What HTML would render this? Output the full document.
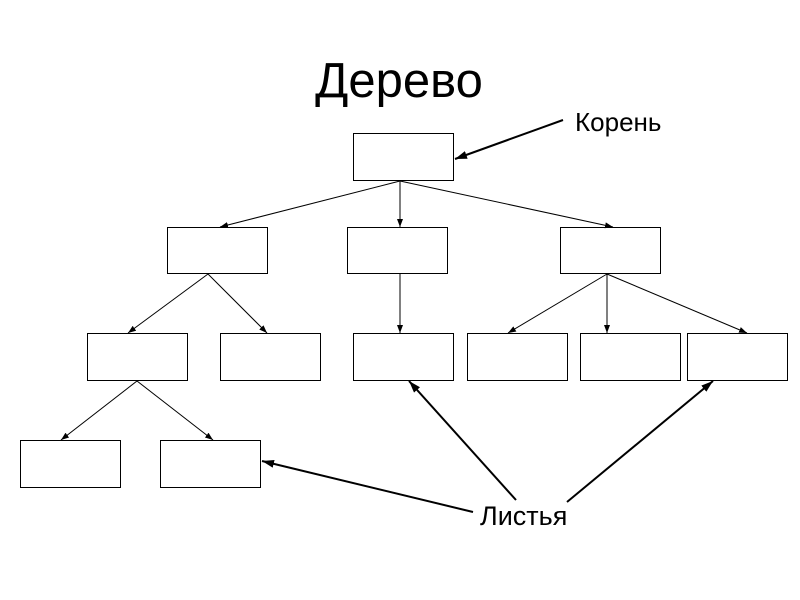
<!DOCTYPE html>
<html><head><meta charset="utf-8"><style>
html,body{margin:0;padding:0;background:#fff;width:800px;height:600px;overflow:hidden}
</style></head><body>
<svg width="800" height="600" xmlns="http://www.w3.org/2000/svg">
<defs>
<marker id="a" markerWidth="8" markerHeight="6" refX="8" refY="3" orient="auto" markerUnits="userSpaceOnUse"><path d="M0,0 L8,3 L0,6 z" fill="#000"/></marker>
<marker id="b" markerWidth="12" markerHeight="8" refX="12" refY="4" orient="auto" markerUnits="userSpaceOnUse"><path d="M0,0 L12,4 L0,8 z" fill="#000"/></marker>
</defs>
<text x="399" y="97" font-family="Liberation Sans, DejaVu Sans, sans-serif" font-size="49" text-anchor="middle">Дерево</text>
<text x="575" y="131" font-family="Liberation Sans, DejaVu Sans, sans-serif" font-size="26">Корень</text>
<text x="480" y="525" font-family="Liberation Sans, DejaVu Sans, sans-serif" font-size="27">Листья</text>
<g fill="#fff" stroke="#000" stroke-width="1">
<rect x="353.5" y="133.5" width="100" height="47"/>
<rect x="167.5" y="227.5" width="100" height="46"/>
<rect x="347.5" y="227.5" width="100" height="46"/>
<rect x="560.5" y="227.5" width="100" height="46"/>
<rect x="87.5" y="333.5" width="100" height="47"/>
<rect x="220.5" y="333.5" width="100" height="47"/>
<rect x="353.5" y="333.5" width="100" height="47"/>
<rect x="467.5" y="333.5" width="100" height="47"/>
<rect x="580.5" y="333.5" width="100" height="47"/>
<rect x="687.5" y="333.5" width="100" height="47"/>
<rect x="20.5" y="440.5" width="100" height="47"/>
<rect x="160.5" y="440.5" width="100" height="47"/>
</g>
<g stroke="#000" stroke-width="1" marker-end="url(#a)">
<line x1="400" y1="181" x2="220" y2="227"/>
<line x1="400" y1="181" x2="400" y2="227"/>
<line x1="400" y1="181" x2="613" y2="227"/>
<line x1="208" y1="274" x2="128" y2="333"/>
<line x1="208" y1="274" x2="267" y2="333"/>
<line x1="400" y1="274" x2="400" y2="333"/>
<line x1="607" y1="274" x2="508" y2="333"/>
<line x1="607" y1="274" x2="607" y2="333"/>
<line x1="607" y1="274" x2="747" y2="333"/>
<line x1="137" y1="381" x2="61" y2="440"/>
<line x1="137" y1="381" x2="213" y2="440"/>
</g>
<g stroke="#000" stroke-width="2" marker-end="url(#b)">
<line x1="563" y1="120" x2="455" y2="159"/>
<line x1="473" y1="512" x2="262" y2="461"/>
<line x1="516" y1="500" x2="409" y2="381"/>
<line x1="567" y1="502" x2="713" y2="381"/>
</g>
</svg>
</body></html>
